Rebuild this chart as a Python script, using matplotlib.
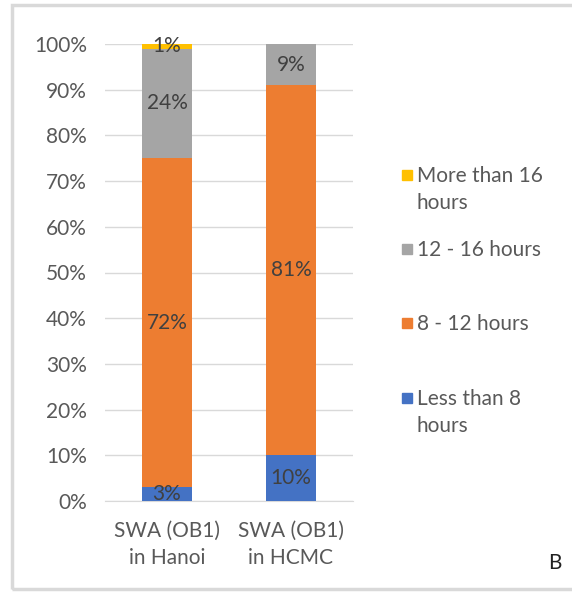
import matplotlib.pyplot as plt
from matplotlib.patches import Rectangle

plt.rcParams['font.family'] = ['Lato', 'DejaVu Sans']

# data
cats = ["SWA (OB1)\nin Hanoi", "SWA (OB1)\nin HCMC"]
less8 = [3, 10]
h8_12 = [72, 81]
h12_16 = [24, 9]
more16 = [1, 0]
series_names = ["Less than 8\nhours", "8 - 12 hours", "12 - 16 hours", "More than 16\nhours"]
colors = ["#4472C4", "#ED7D31", "#A5A5A5", "#FFC000"]

fig = plt.figure(figsize=(5.72, 5.92), dpi=100)
ax = fig.add_axes([105/572, 1 - 501/592, 248/572, 457/592])

x = range(len(cats))
bottom = [0, 0]
for vals, col in zip([less8, h8_12, h12_16, more16], colors):
    ax.bar(x, vals, bottom=bottom, width=0.4, color=col, zorder=3)
    for i, v in enumerate(vals):
        if v > 0:
            ax.text(i, bottom[i] + v / 2, f"{v}%", ha='center', va='center',
                    fontsize=15, color='#404040', zorder=4)
    bottom = [b + v for b, v in zip(bottom, vals)]

ax.set_xlim(-0.5, 1.5)
ax.set_ylim(0, 100)
ax.set_yticks(range(0, 101, 10))
ax.set_yticklabels([f"{t}%" for t in range(0, 101, 10)])
ax.set_xticks(list(x))
ax.set_xticklabels(cats, linespacing=1.45)
ax.tick_params(length=0, labelsize=15, labelcolor='#595959')
ax.tick_params(axis='x', pad=14)
ax.tick_params(axis='y', pad=13)
ax.grid(axis='y', color='#d9d9d9', linewidth=1, zorder=0)
for s in ['top', 'right', 'left']:
    ax.spines[s].set_visible(False)
ax.spines['bottom'].set_color('#d9d9d9')

# legend drawn by hand (square aligned with first line)
leg_y = [398, 323, 249, 175]
for name, col, yy in zip(series_names, colors, leg_y):
    fig.patches.append(Rectangle((402/572, 1 - (yy + 5)/592), 10/572, 10/592,
                                 transform=fig.transFigure, color=col))
    fig.text(417/572, 1 - (yy - 9)/592, name, ha='left', va='top',
             fontsize=15, color='#595959', linespacing=1.45)

fig.text(555/572, 1 - 563/592, "B", ha='center', va='center', fontsize=15, color='#222222')

# outer frame
fig.patches.append(Rectangle((12/572, 3/592), 570/572, 584/592, transform=fig.transFigure,
                             fill=False, edgecolor='#d9d9d9', linewidth=2.5))

fig.savefig("out.png", dpi=100)
